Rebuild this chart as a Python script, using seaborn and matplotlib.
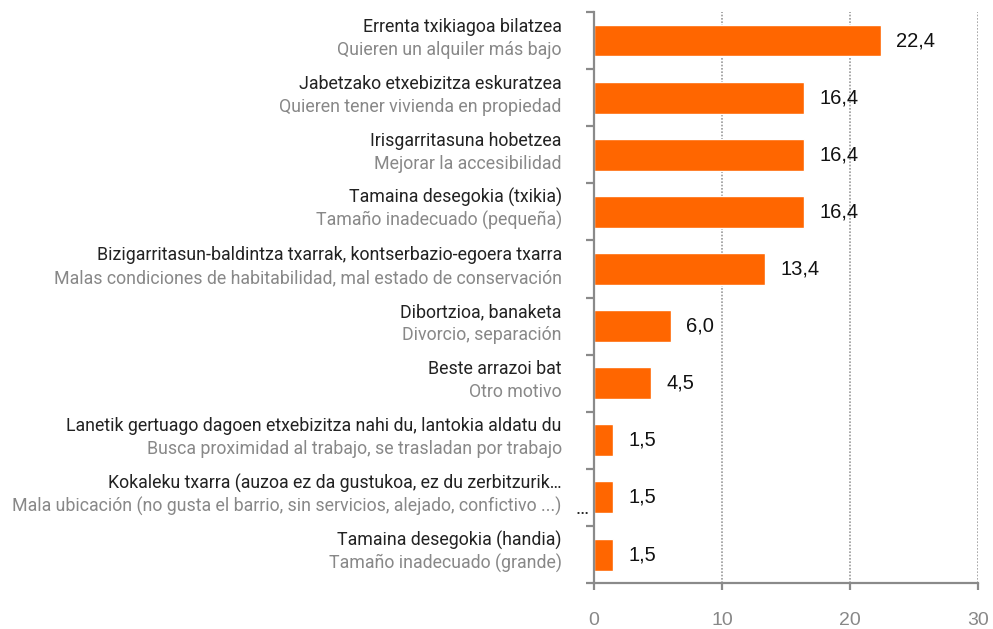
import matplotlib
matplotlib.use("Agg")
import matplotlib.pyplot as plt
import seaborn as sns
import numpy as np
import pandas as pd

# labels in basque (top line) and spanish (bottom line)
labels_eu = [
    "Errenta txikiagoa bilatzea",
    "Jabetzako etxebizitza eskuratzea",
    "Irisgarritasuna hobetzea",
    "Tamaina desegokia (txikia)",
    "Bizigarritasun-baldintza txarrak, kontserbazio-egoera txarra",
    "Dibortzioa, banaketa",
    "Beste arrazoi bat",
    "Lanetik gertuago dagoen etxebizitza nahi du, lantokia aldatu du",
    "Kokaleku txarra (auzoa ez da gustukoa, ez du zerbitzurik\u2026",
    "Tamaina desegokia (handia)",
]
labels_es = [
    "Quieren un alquiler más bajo",
    "Quieren tener vivienda en propiedad",
    "Mejorar la accesibilidad",
    "Tamaño inadecuado (pequeña)",
    "Malas condiciones de habitabilidad, mal estado de conservación",
    "Divorcio, separación",
    "Otro motivo",
    "Busca proximidad al trabajo, se trasladan por trabajo",
    "Mala ubicación (no gusta el barrio, sin servicios, alejado, confictivo ...)",
    "Tamaño inadecuado (grande)",
]
values = [22.4, 16.4, 16.4, 16.4, 13.4, 6.0, 4.5, 1.5, 1.5, 1.5]
xticks = [0, 10, 20, 30]

df = pd.DataFrame({"cat": labels_eu, "val": values})

sns.set_style("white")
plt.rcParams["font.family"] = ["Roboto", "DejaVu Sans"]

fig = plt.figure(figsize=(9.93, 6.29), dpi=100)
ax = fig.add_axes([0.598, 0.073, 0.387, 0.908])

sns.barplot(data=df, x="val", y="cat", color="#ff6600", width=0.56,
            saturation=1, ax=ax)

ax.set_xlim(0, 30)
ax.set_ylim(len(values) - 0.5, -0.5)
ax.set_xlabel("")
ax.set_ylabel("")

# dotted vertical grid
for xv in xticks[1:]:
    ax.axvline(xv, color="#999999", linestyle=(0, (1, 1)), linewidth=1.2, zorder=0)

gray = "#8a8a8a"
for side in ["top", "right"]:
    ax.spines[side].set_visible(False)
for side in ["left", "bottom"]:
    ax.spines[side].set_color(gray)
    ax.spines[side].set_linewidth(1.6)

ax.set_xticks(xticks)
ax.set_xticklabels([str(t) for t in xticks], fontfamily="Liberation Sans",
                   fontsize=14, color="#888888")
ax.tick_params(axis="x", bottom=True, direction="out", length=5, width=1.6,
               color=gray, pad=16)

ax.set_yticks([])
ax.set_yticks(np.arange(-0.5, len(values)), minor=True)
ax.tick_params(axis="y", which="minor", left=True, direction="out", length=6,
               width=1.6, color=gray, labelleft=False)

for i, (eu, es, v) in enumerate(zip(labels_eu, labels_es, values)):
    ax.annotate(eu, xy=(0, i), xycoords=("axes fraction", "data"),
                xytext=(-32, 14), textcoords="offset pixels",
                ha="right", va="center", fontsize=12.8, color="#222222")
    ax.annotate(es, xy=(0, i), xycoords=("axes fraction", "data"),
                xytext=(-32, -9), textcoords="offset pixels",
                ha="right", va="center", fontsize=12.8, color="#888888")
    ax.text(v + 1.2, i, f"{v:.1f}".replace(".", ","), ha="left", va="center",
            fontfamily="Liberation Sans", fontsize=14.5, color="#111111")

# stray ellipsis next to the axis
ax.annotate("\u2026", xy=(0, 8), xycoords=("axes fraction", "data"),
            xytext=(-12, -12), textcoords="offset pixels",
            ha="center", va="center", fontsize=14, color="#222222")

fig.savefig("out.png", dpi=100)
